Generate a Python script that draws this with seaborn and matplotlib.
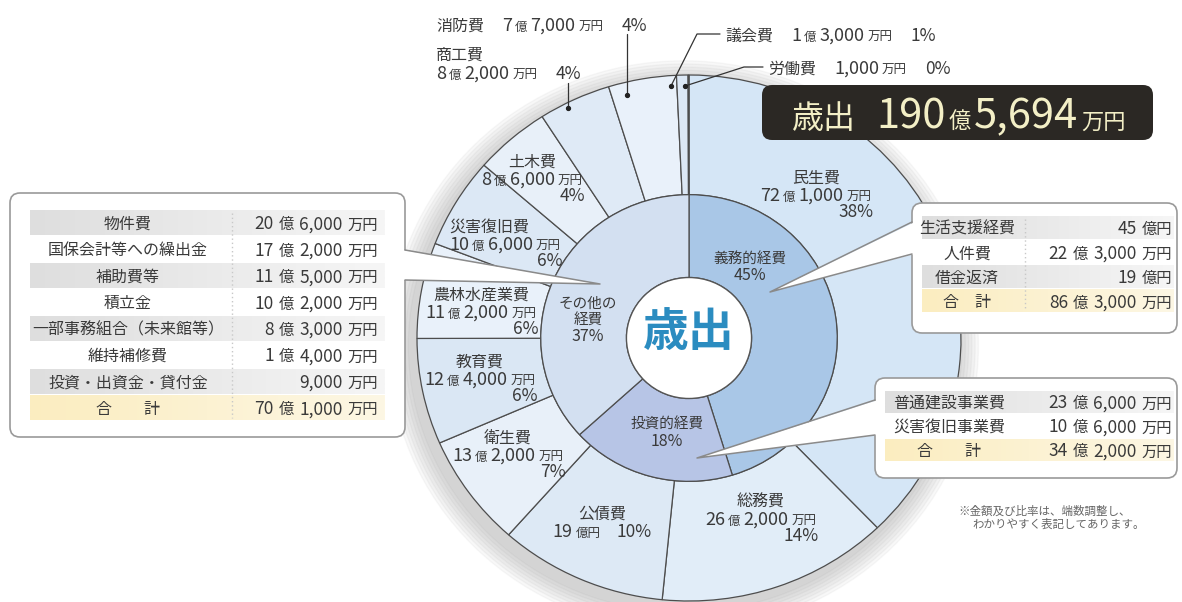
import matplotlib
matplotlib.use("Agg")
import matplotlib.pyplot as plt
from matplotlib.patches import FancyBboxPatch, Polygon, Circle
import numpy as np
import seaborn as sns

# 歳出の内訳（単位：万円）
outer_names = ["民生費", "総務費", "公債費", "衛生費", "教育費", "農林水産業費",
               "災害復旧費", "土木費", "商工費", "消防費", "議会費", "労働費"]
outer_values = [721000, 262000, 190000, 132000, 124000, 112000,
                106000, 86000, 82000, 77000, 13000, 1000]
outer_pcts = [38, 14, 10, 7, 6, 6, 6, 4, 4, 4, 1, 0]

inner_names = ["義務的経費", "投資的経費", "その他の経費"]
inner_values = [863000, 342000, 701000]
inner_pcts = [45, 18, 37]

total_value = 1905694

mandatory_items = ["生活支援経費", "人件費", "借金返済"]
mandatory_values = [450000, 223000, 190000]
invest_items = ["普通建設事業費", "災害復旧事業費"]
invest_values = [236000, 106000]
other_items = ["物件費", "国保会計等への繰出金", "補助費等", "積立金",
               "一部事務組合（未来館等）", "維持補修費", "投資・出資金・貸付金"]
other_values = [206000, 172000, 115000, 102000, 83000, 14000, 9000]

note_lines = ["※金額及び比率は、端数調整し、", "わかりやすく表記してあります。"]

# colours
INK = "#3a3a3a"
EDGE = "#4d4d4d"
outer_colors = ["#d5e6f6", "#e1edf8", "#dde9f5", "#e8f0f9", "#dae7f4", "#e9f1fa",
                "#dce8f5", "#e8f0f9", "#dfeaf6", "#e9f1fa", "#dce8f5", "#e9f1fa"]
inner_colors = ["#a9c7e7", "#b7c5e6", "#d3e0f1"]

sns.set_theme(style="white")
plt.rcParams["font.family"] = ["Noto Sans CJK JP", "DejaVu Sans"]

W, H = 1182, 602
fig = plt.figure(figsize=(W / 100, H / 100), dpi=100)
fig.patch.set_facecolor("white")

# donut (slightly wider than tall, like the printed page)
cx, cy, rx, ry = 689, 338, 272, 263
ax_pie = fig.add_axes([(cx - rx) / W, (H - cy - ry) / H, 2 * rx / W, 2 * ry / H])
ax_pie.set_zorder(1)
r_mid, r_in = 0.545, 0.23
for k in range(7):
    sh = Circle((-0.02, -0.03), 1.0 + 0.012 * (k + 1), color="#8a8a8a", alpha=0.06,
                zorder=0, clip_on=False)
    ax_pie.add_patch(sh)
ax_pie.pie(outer_values, radius=1.0, startangle=90, counterclock=False, colors=outer_colors,
           wedgeprops=dict(width=1.0 - r_mid, edgecolor=EDGE, linewidth=0.9))
ax_pie.pie(inner_values, radius=r_mid, startangle=90, counterclock=False, colors=inner_colors,
           wedgeprops=dict(width=r_mid - r_in, edgecolor=EDGE, linewidth=0.9))
ax_pie.add_patch(Circle((0, 0), r_in, facecolor="white", edgecolor="#555555", linewidth=1.0, zorder=5))
ax_pie.set_xlim(-1, 1)
ax_pie.set_ylim(-1, 1)
ax_pie.set_aspect("auto")
ax_pie.axis("off")

# overlay in pixel coordinates
ax = fig.add_axes([0, 0, 1, 1])
ax.set_zorder(2)
ax.patch.set_alpha(0)
ax.axis("off")
ax.set_xlim(0, W)
ax.set_ylim(H, 0)
renderer = fig.canvas.get_renderer()


def runs(x, yc, parts, ha="left", color=INK, gap=2, weight="normal"):
    """Draw text pieces of different sizes on one baseline; return (left, right)."""
    big = max(fs for s, fs in parts if s is not None)
    yb = yc + 0.37 * big * 100 / 72
    items = []
    for s, fs in parts:
        if s is None:
            items.append((None, fs))
        else:
            t = ax.text(x, yb, s, fontsize=fs, color=color, va="baseline", ha="left",
                        fontweight=weight, zorder=4)
            items.append((t, t.get_window_extent(renderer).width))
    total = sum(w for _, w in items) + gap * (len(items) - 1)
    x0 = x - {"left": 0, "center": total / 2, "right": total}[ha]
    left = x0
    for t, w in items:
        if t is not None:
            t.set_x(x0)
        x0 += w + gap
    return left, left + total


def money(v, big, small):
    oku, man = divmod(v, 10000)
    p = []
    if oku:
        p += [(str(oku), big), ("億", small)]
    if man:
        p += [(f"{man:,}", big), ("万円", small)]
    else:
        p[-1] = ("億円", small)
    return p


# outer wedge labels: block centre x, first line centre y
label_pos = {
    "民生費": (816, 177), "総務費": (761, 501), "公債費": (602, 513),
    "衛生費": (508, 437), "教育費": (480, 361), "農林水産業費": (481, 294),
    "災害復旧費": (505, 226), "土木費": (532, 161), "商工費": (436, 54),
    "消防費": (436, 24), "議会費": (725, 34), "労働費": (768, 67),
}
label_style = {"公債費": "two", "商工費": "two_left", "消防費": "one",
               "議会費": "one", "労働費": "one"}
NAME_FS, NUM_FS, UNIT_FS, PCT_FS = 11.5, 13, 9, 12.5
LH = 17

for name, val, pct in zip(outer_names, outer_values, outer_pcts):
    x, y = label_pos[name]
    style = label_style.get(name, "three")
    amt = money(val, NUM_FS, UNIT_FS)
    pc = [(f"{pct}%", PCT_FS)]
    if style == "three":
        l, r = runs(x, y + LH, amt, ha="center", gap=3)
        if name == "災害復旧費":
            runs(l, y, [(name, NAME_FS)], ha="left")
        else:
            runs(x, y, [(name, NAME_FS)], ha="center")
        runs(r + 2, y + 2 * LH, pc, ha="right")
    elif style == "two":
        runs(x, y, [(name, NAME_FS)], ha="center")
        runs(x, y + LH, amt + [(None, 10)] + pc, ha="center", gap=3)
    elif style == "two_left":
        runs(x, y, [(name, NAME_FS)], ha="left")
        runs(x, y + LH + 1, amt + [(None, 12)] + pc, ha="left", gap=3)
    else:
        runs(x, y, [(name, NAME_FS), (None, 12)] + amt + [(None, 12)] + pc, ha="left", gap=3)

leaders = {
    "消防費": [(627, 34), (627, 95)],
    "商工費": [(568, 83), (568, 108)],
    "議会費": [(720, 34), (697, 34), (671, 86)],
    "労働費": [(763, 67), (744, 67), (685, 86)],
}
for pts in leaders.values():
    xs, ys = zip(*pts)
    ax.plot(xs, ys, color="#333333", lw=0.9, zorder=3)
    ax.plot(xs[-1], ys[-1], "o", color="#222222", ms=2.8, zorder=3)

# inner ring labels
inner_pos = {"義務的経費": (750, 257), "投資的経費": (667, 423), "その他の経費": (588, 302)}
for name, pct in zip(inner_names, inner_pcts):
    x, y = inner_pos[name]
    lines = ["その他の", "経費"] if name == "その他の経費" else [name]
    for i, s in enumerate(lines):
        runs(x, y + i * 16, [(s, 10.5)], ha="center")
    runs(x, y + len(lines) * 16 + 1, [(f"{pct}%", 11.5)], ha="center")

# centre word
ax.text(cx, 333, "歳出", fontsize=33, fontweight="bold", color="#2b8cc0",
        ha="center", va="center", zorder=4)

# title plate
ax.add_patch(FancyBboxPatch((762, 85), 391, 55, boxstyle="round,pad=0,rounding_size=10",
                            facecolor="#2b2824", edgecolor="none", zorder=3))
oku, man = divmod(total_value, 10000)
runs(792, 113, [("歳出", 23), (None, 14), (str(oku), 30), ("億", 16), (f"{man:,}", 30), ("万円", 16)],
     color="#f3efc6", gap=3)


def table(box, pointer, rows, name_x, amt_x, y0, dy, band_x, seps=None, shaded=(0,)):
    x0, y_top, x1, y_bot = box
    ax.add_patch(FancyBboxPatch((x0, y_top), x1 - x0, y_bot - y_top,
                                boxstyle="round,pad=0,rounding_size=10",
                                facecolor="white", edgecolor="#9a9a9a", linewidth=1.2, zorder=3))
    # pointer triangle
    bx, ya, yb_, tip = pointer
    inward = 3 if bx == x1 else -3
    ax.add_patch(Polygon([(bx - inward, ya), (bx - inward, yb_), tip], closed=True,
                         facecolor="white", edgecolor="none", zorder=3.2))
    ax.plot([bx, tip[0], bx], [ya, tip[1], yb_], color="#8a8a8a", lw=1.1, zorder=3.3)
    gray = sns.blend_palette(["#dedede", "#f6f6f6"], as_cmap=True)
    yellow = sns.blend_palette(["#fbedc0", "#fdf7e4"], as_cmap=True)
    grad = np.linspace(0, 1, 256)[None, :]
    n = len(rows)
    for i, (name, val) in enumerate(rows):
        y = y0 + i * dy
        is_total = i == n - 1
        if is_total or i in shaded:
            ax.imshow(grad, cmap=yellow if is_total else gray, aspect="auto",
                      extent=(band_x[0], band_x[1], y + dy / 2 - 1, y - dy / 2 + 1), zorder=3.4)
        runs(name_x, y, [(name, 11.5)], ha="center")
        runs(amt_x, y, money(val, 12.5, 11), ha="right", gap=5)
    if seps:
        ax.plot([seps, seps], [y0 - dy / 2 + 3, y0 + (n - 0.5) * dy - 3], color="#c8c8c8",
                lw=1, ls=(0, (1, 2)), zorder=3.5)


table((10, 193, 405, 437), (405, 250, 280, (600, 284)),
      list(zip(other_items, other_values)) + [("合　　計", sum(other_values))],
      name_x=128, amt_x=378, y0=223, dy=26.4, band_x=(30, 385), seps=232, shaded=(0, 2, 4, 6))
table((912, 203, 1177, 333), (912, 222, 254, (770, 292)),
      list(zip(mandatory_items, mandatory_values)) + [("合　計", sum(mandatory_values))],
      name_x=967, amt_x=1172, y0=228, dy=24.4, band_x=(922, 1174), seps=1025, shaded=(0, 2))
table((875, 378, 1177, 478), (875, 400, 435, (697, 458)),
      list(zip(invest_items, invest_values)) + [("合　　計", sum(invest_values))],
      name_x=949, amt_x=1172, y0=402, dy=24, band_x=(885, 1174), shaded=(0,))

# note
ax.text(958, 511, note_lines[0], fontsize=8.3, color="#666666", va="center", zorder=4)
ax.text(972, 524, note_lines[1], fontsize=8.3, color="#666666", va="center", zorder=4)

ax.set_xlim(0, W)
ax.set_ylim(H, 0)
fig.savefig("out.png", dpi=100, facecolor="white")
